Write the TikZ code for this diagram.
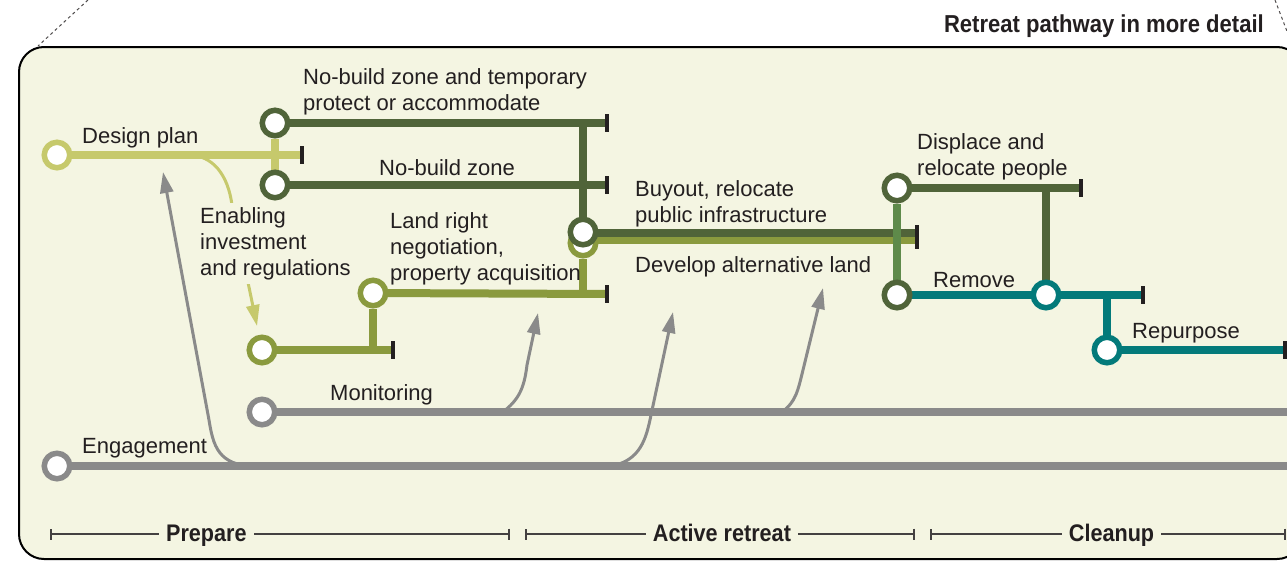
\documentclass[tikz,border=0pt]{standalone}
\usepackage{fontspec}
\setmainfont{Liberation Sans}
\newfontfamily\headfont{Liberation Sans}[FakeStretch=0.9]
\usetikzlibrary{arrows.meta, positioning}

\definecolor{bgcream}{HTML}{F4F5E2}
\definecolor{ink}{HTML}{231F20}
\definecolor{ltgreen}{HTML}{C6C96C}
\definecolor{dkgreen}{HTML}{506439}
\definecolor{olivegreen}{HTML}{8A9A3E}
\definecolor{midgreen}{HTML}{5E8A4A}
\definecolor{pathteal}{HTML}{037A7A}
\definecolor{pathgrey}{HTML}{8A8A8A}

\pgfdeclarelayer{back}
\pgfdeclarelayer{tracks}
\pgfsetlayers{back,tracks,main}

\tikzset{
  station/.style={circle, draw=#1, fill=white, line width=5.5, minimum size=25.5,
    inner sep=0},
  track/.style={draw=#1, line width=8},
  endtick/.style={draw=ink, line width=4.5},
  feed/.style={draw=#1, line width=3, -{Triangle[width=13,length=21]}},
  lbl/.style={anchor=base west, inner sep=0, align=left, text=ink,
    font=\fontsize{22}{26}\selectfont},
  phase/.style={draw=ink!85, line width=1.8, {Bar[width=11]}-{Bar[width=11]}},
  phaselbl/.style={fill=bgcream, inner xsep=7, inner ysep=2, text=ink,
    text height=15, text depth=0,
    font=\headfont\bfseries\fontsize{24}{28}\selectfont},
}
\newcommand{\tickmark}[2][9]{\draw[endtick] ([yshift=#1]#2) -- ([yshift=-#1]#2);}

\begin{document}
\begin{tikzpicture}[x=1pt, y=-1pt]
  \useasboundingbox (0,0) rectangle (1287,560);%

  % frame
  \begin{pgfonlayer}{back}
    \draw [fill=bgcream, line width=2, rounded corners=25] (19,47) rectangle
    (1302,559);%
    \draw [dashed, line width=1, ink!80] (88,0) -- (38,46);%
    \draw [dashed, line width=1, ink!80] (1275,0) -- (1293,47);%
  \end{pgfonlayer}
  \node [anchor=base east, inner sep=0, text=ink,
  font=\headfont\bfseries\fontsize{24.5}{28}\selectfont] (title) at (1264,32)
  {Retreat pathway in more detail};%

  % stations
  \node [station=ltgreen] (dp) at (57,155) {};%
  \node [station=dkgreen] (nbt) at (275,123) {};%
  \node [station=dkgreen] (nb) at (275,185) {};%
  \node [station=olivegreen] (dev) at (583,243) {};%
  \node [station=dkgreen] (buy) at (583,232) {};%
  \node [station=olivegreen] (en) at (262,350) {};%
  \node [station=olivegreen] (lr) at (373,293) {};%
  \node [station=dkgreen] (dr) at (897,188) {};%
  \node [station=dkgreen] (rm) at (897,295) {};%
  \node [station=pathteal] (tl) at (1046,295) {};%
  \node [station=pathteal] (rp) at (1107,350) {};%
  \node [station=pathgrey] (mon) at (262,412) {};%
  \node [station=pathgrey] (eng) at (57,466) {};%

  % line ends
  \coordinate (dpEnd) at (302,155);%
  \coordinate (nbtEnd) at (607,123);%
  \coordinate (nbEnd) at (607,185);%
  \coordinate (buyEnd) at (917,233);%
  \coordinate (devEnd) at (917,240.5);%
  \coordinate (bandEnd) at (917,237);%
  \coordinate (enEnd) at (393,350);%
  \coordinate (lrEnd) at (607,294);%
  \coordinate (drEnd) at (1081,188);%
  \coordinate (rmEnd) at (1143,295);%
  \coordinate (rpEnd) at (1285,350);%
  \coordinate (monEnd) at (1300,412);%
  \coordinate (engEnd) at (1300,466);%

  % arrow ends
  \coordinate (dpOut) at (188,155);%
  \coordinate (dpIn) at (163,172);%
  \coordinate (lrIn) at (538,313);%
  \coordinate (bandIn) at (673,312);%
  \coordinate (devIn) at (823,288);%

  \begin{pgfonlayer}{tracks}
    \draw [track=pathgrey] (mon.center) -- (monEnd);%
    \draw [track=pathgrey] (eng.center) -- (engEnd);%

    \draw [track=ltgreen] (dp.center) -- (dpEnd);%
    \draw [track=ltgreen] (nbt) -- (nb);%

    \draw [track=dkgreen] (nbt.center) -- (nbtEnd);%
    \draw [track=dkgreen] (nb.center) -- (nbEnd);%
    \draw [track=dkgreen] (buy) -- (buy |- nbt);%
    \draw [track=olivegreen, line width=7.5] (dev.center |- devEnd) -- (devEnd);%
    \draw [track=dkgreen, line width=7.5] (buy.center |- buyEnd) -- (buyEnd);%

    \draw [track=olivegreen] (en.center) -- (enEnd);%
    \draw [track=olivegreen] (lr) -- (lr |- en);%
    \draw [track=olivegreen] (lr.center) -- (lrEnd);%
    \draw [track=olivegreen] (dev) -- (dev |- lrEnd);%

    \draw [track=dkgreen] (dr.center) -- (drEnd);%
    \draw [track=midgreen] (dr) -- (rm);%
    \draw [track=dkgreen] (tl) -- (tl |- dr);%
    \draw [track=pathteal] (rm.center) -- (rmEnd);%
    \draw [track=pathteal] (rp) -- (rp |- tl);%
    \draw [track=pathteal] (rp.center) -- (rpEnd);%

    % feeds
    \draw [feed=ltgreen, shorten >=9] (dpOut) .. controls (213,155) and
    (228,175) .. (232,205) -- (en);%
    \draw [feed=pathgrey] (eng.center -| 255,0) .. controls (218,466) and
    (213,445) .. (209,420) -- (dpIn);%
    \draw [feed=pathgrey] (mon.center -| 503,0) .. controls (518,400) and
    (524,390) .. (527,365) -- (lrIn);%
    \draw [feed=pathgrey] (eng.center -| 612,0) .. controls (640,460) and
    (646,440) .. (651,415) -- (bandIn);%
    \draw [feed=pathgrey] (mon.center -| 782,0) .. controls (796,402) and
    (798,390) .. (803,370) -- (devIn);%
  \end{pgfonlayer}

  % ticks
  \tickmark{dpEnd}%
  \tickmark{nbtEnd}%
  \tickmark{nbEnd}%
  \tickmark[12]{bandEnd}%
  \tickmark{enEnd}%
  \tickmark{lrEnd}%
  \tickmark{drEnd}%
  \tickmark{rmEnd}%
  \tickmark{rpEnd}%

  % labels (multi-line ones sit on their last line)
  \node [lbl] (dpL) at (82,143) {Design plan};%
  \node [lbl] (nbtL) at (303,110) {No-build zone and temporary\\protect or
    accommodate};%
  \node [lbl] (nbL) at (379,175) {No-build zone};%
  \node [lbl, fill=bgcream, inner ysep=4] (enL) at (200,275) {Enabling\\investment\\and
    regulations};%
  \node [lbl] (lrL) at (390,280) {Land right\\negotiation,\\property acquisition};%
  \node [lbl] (buyL) at (635,222) {Buyout, relocate\\public infrastructure};%
  \node [lbl] (devL) at (635,272) {Develop alternative land};%
  \node [lbl] (drL) at (917,175) {Displace and\\relocate people};%
  \node [lbl] (rmL) at (933,287) {Remove};%
  \node [lbl] (rpL) at (1132,338) {Repurpose};%
  \node [lbl] (monL) at (330,400) {Monitoring};%
  \node [lbl] (engL) at (82,453) {Engagement};%

  % phases
  \draw [phase] (50,534) -- node [phaselbl, pos=0.34] (prep) {Prepare} (510,534);%
  \draw [phase] (525,534) -- node [phaselbl, pos=0.505] (act) {Active retreat}
  (915,534);%
  \draw [phase] (930,534) -- node [phaselbl, pos=0.51] (clean) {Cleanup}
  (1286,534);%
\end{tikzpicture}
\end{document}
